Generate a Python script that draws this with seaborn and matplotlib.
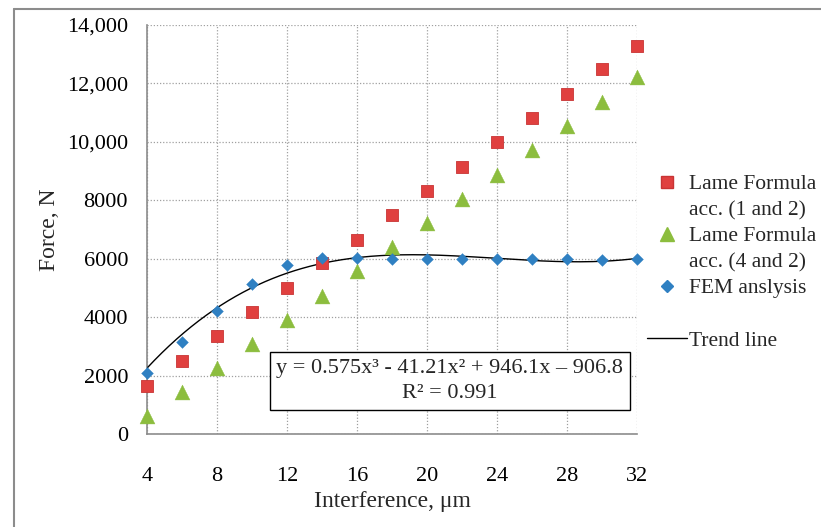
import numpy as np
import pandas as pd
import matplotlib
matplotlib.use("Agg")
import matplotlib.pyplot as plt
from matplotlib.lines import Line2D
import seaborn as sns

# ---- data ----
interference = [4, 6, 8, 10, 12, 14, 16, 18, 20, 22, 24, 26, 28, 30, 32]
lame_1_2 = [1660, 2500, 3350, 4180, 5000, 5850, 6650, 7500, 8320, 9140, 10000, 10820, 11640, 12480, 13290]
lame_4_2 = [600, 1440, 2260, 3080, 3900, 4730, 5580, 6400, 7230, 8050, 8870, 9730, 10550, 11370, 12230]
fem = [2090, 3150, 4210, 5140, 5790, 6030, 6030, 6000, 6000, 5990, 5990, 5990, 5990, 5960, 5990]
trend_coef = [0.575, -41.21, 946.1, -906.8]   # cubic trend line from the chart
r_squared = 0.991
x_ticks = [4, 8, 12, 16, 20, 24, 28, 32]
y_ticks = [0, 2000, 4000, 6000, 8000, 10000, 12000, 14000]
y_ticklabels = ["0", "2000", "4000", "6000", "8000", "10,000", "12,000", "14,000"]
legend_rows = ["Lame Formula", "acc. (1 and 2)", "Lame Formula", "acc. (4 and 2)", "FEM anslysis", "", "Trend line"]

equation = (f"y = {trend_coef[0]}x³ - {abs(trend_coef[1])}x² + {trend_coef[2]}x – {abs(trend_coef[3])}\n"
            f"R² = {r_squared}")

sns.set_theme(style="white")
plt.rcParams["font.family"] = ["Liberation Serif", "DejaVu Serif"]

FS = 16
fig = plt.figure(figsize=(8.21, 5.27), dpi=100)
ax = fig.add_axes([147/821, 1-434/527, (637-147)/821, (434-25)/527])

red = "#E0403F"
green = "#8CBD3E"
blue = "#2F80C2"

# trend line from the cubic equation
xs = np.linspace(4, 32, 200)
trend = pd.DataFrame({"x": xs, "y": np.polyval(trend_coef, xs)})
sns.lineplot(data=trend, x="x", y="y", ax=ax, color="black", linewidth=1.0, zorder=3)

df = pd.DataFrame({"x": interference, "r": lame_1_2, "g": lame_4_2, "b": fem})
sns.scatterplot(data=df, x="x", y="r", ax=ax, marker="s", s=64, color=red,
                edgecolor="#C83434", linewidth=0.6, zorder=4, clip_on=False)
sns.scatterplot(data=df, x="x", y="g", ax=ax, marker="^", s=115, color=green,
                edgecolor=green, linewidth=0.3, zorder=4, clip_on=False)
sns.scatterplot(data=df, x="x", y="b", ax=ax, marker="D", s=36, color=blue,
                edgecolor=blue, linewidth=0.3, zorder=5, clip_on=False)

ax.set_xlim(4, 32)
ax.set_ylim(0, 14000)
ax.set_xticks(x_ticks)
ax.set_yticks(y_ticks)
ax.set_yticklabels(y_ticklabels)
ax.grid(True, linestyle=(0, (1, 1.5)), color="#A0A0A0", linewidth=0.9)
ax.set_axisbelow(True)
for s in ["top", "right"]:
    ax.spines[s].set_visible(False)
for s in ["left", "bottom"]:
    ax.spines[s].set_color("#8C8C8C")
    ax.spines[s].set_linewidth(1.2)
ax.tick_params(axis="both", which="major", direction="out", length=3.6, width=0.8,
               color="#8C8C8C", labelsize=FS, labelcolor="black")
ax.tick_params(axis="x", pad=20)
ax.tick_params(axis="y", pad=10)
ax.set_xlabel("Interference, μm", fontsize=FS + 1)
ax.set_ylabel("Force, N", fontsize=FS + 1)
ax.xaxis.set_label_coords(0.5, -0.14)
ax.yaxis.set_label_coords(-0.178, 0.5)

ax.text(21.3, 1815, equation, ha="center", va="center", fontsize=FS, linespacing=1.45,
        zorder=6, bbox=dict(boxstyle="square,pad=0.3", facecolor="white", edgecolor="black", linewidth=1.0))

blank = Line2D([], [], linestyle="none", marker="")
handles = [
    Line2D([], [], linestyle="none", marker="s", markersize=8, color=red, markeredgecolor="#C83434"),
    blank,
    Line2D([], [], linestyle="none", marker="^", markersize=10, color=green),
    blank,
    Line2D([], [], linestyle="none", marker="D", markersize=6, color=blue),
    blank,
    Line2D([], [], color="black", linewidth=1.0),
]
fig.legend(handles, legend_rows, loc="upper left", bbox_to_anchor=(647/821, 1-174/527),
           frameon=False, fontsize=15.5, handlelength=1.85, handletextpad=0.12,
           labelspacing=0.28, borderaxespad=0, borderpad=0)

# outer frame lines (top and left)
fig.add_artist(Line2D([14/821, 1], [1-9/527, 1-9/527], color="#8C8C8C", linewidth=1.5, transform=fig.transFigure))
fig.add_artist(Line2D([14/821, 14/821], [0, 1-9/527], color="#8C8C8C", linewidth=1.5, transform=fig.transFigure))

fig.savefig("out.png", dpi=100, facecolor="white")
